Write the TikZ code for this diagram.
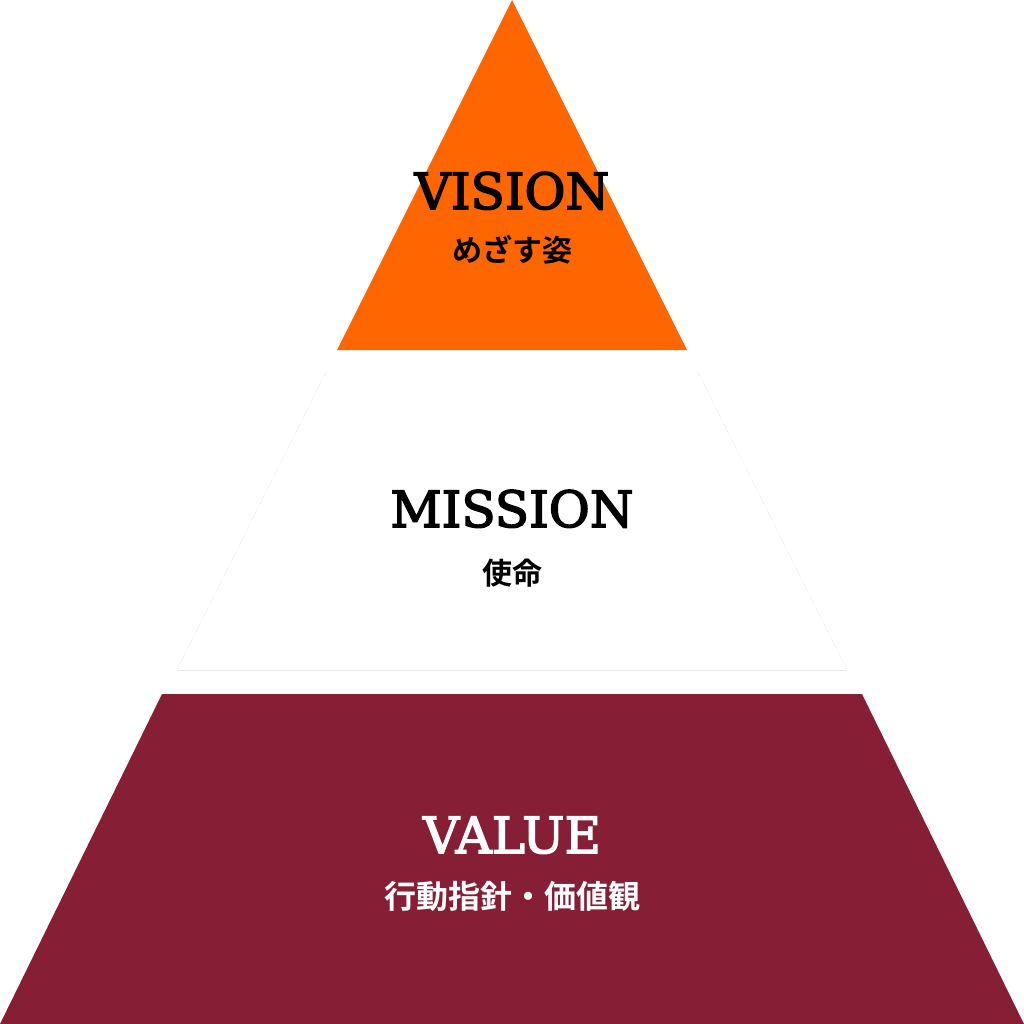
\documentclass[tikz,border=0pt]{standalone}
\usepackage{fontspec}
\setmainfont{DejaVu Serif}
\newfontfamily\titlefont{DejaVu Serif}[FakeBold=3]
\newfontfamily\jpfont{Noto Sans CJK JP}[BoldFont={* Bold}]
\definecolor{visionorange}{RGB}{255,102,0}
\definecolor{valuemaroon}{RGB}{134,31,53}
\tikzset{
  title/.style={font=\titlefont\fontsize{50}{50}\selectfont, anchor=base, inner sep=0pt},
  sub/.style={font=\jpfont\bfseries\fontsize{30}{30}\selectfont, inner sep=0pt},
  faint/.style={draw=black!18, line width=0.6pt},
}
\begin{document}
\begin{tikzpicture}[x=1pt,y=-1pt]
\useasboundingbox (0,0) rectangle (1024,1024);
% VISION triangle
\fill[visionorange] (512,0) -- (687,350) -- (337,350) -- cycle;
% MISSION trapezoid (faint outline)
\draw[faint, dotted] (325.5,373) -- (177,670);
\draw[faint, dotted] (698.5,373) -- (847,670);
\draw[draw=black!8, line width=0.8pt] (177,670) -- (847,670);
% VALUE trapezoid
\fill[valuemaroon] (162,694) -- (862,694) -- (1024,1024) -- (0,1024) -- cycle;
% texts
\node[title] (vision) at (512,209) {VISION};
\node[sub] (visionsub) at (512,250) {めざす姿};
\node[title] (mission) at (512,527) {MISSION};
\node[sub] (missionsub) at (512,573) {使命};
\node[title, text=white] (value) at (512,853) {VALUE};
\node[sub, text=white, font=\jpfont\bfseries\fontsize{32}{32}\selectfont] (valuesub) at (512,896) {行動指針・価値観};
\end{tikzpicture}
\end{document}
